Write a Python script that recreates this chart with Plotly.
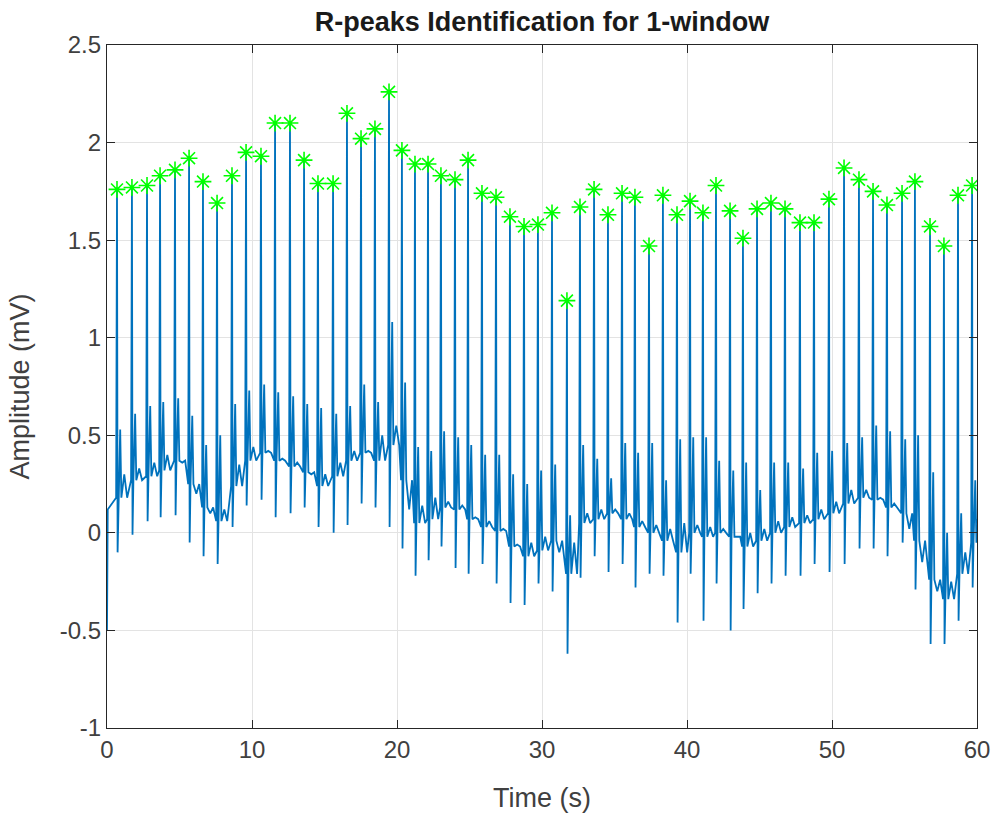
import plotly.graph_objects as go

# R-peak times (s) and amplitudes (mV)
r_times = [0.69, 1.72, 2.76, 3.66, 4.69, 5.66, 6.62, 7.59, 8.62, 9.59,
           10.62, 11.59, 12.62, 13.59, 14.55, 15.59, 16.55, 17.52, 18.48, 19.45,
           20.34, 21.24, 22.14, 23.03, 24.00, 24.90, 25.86, 26.83, 27.79, 28.76,
           29.72, 30.69, 31.72, 32.62, 33.59, 34.55, 35.52, 36.41, 37.38, 38.34,
           39.31, 40.21, 41.10, 42.00, 42.97, 43.86, 44.83, 45.79, 46.76, 47.79,
           48.76, 49.79, 50.83, 51.86, 52.83, 53.79, 54.83, 55.72, 56.76, 57.72,
           58.69, 59.66]
r_amps = [1.76, 1.77, 1.78, 1.83, 1.86, 1.92, 1.80, 1.69, 1.83, 1.95,
          1.93, 2.10, 2.10, 1.91, 1.79, 1.79, 2.15, 2.02, 2.07, 2.26,
          1.96, 1.89, 1.89, 1.83, 1.81, 1.91, 1.74, 1.72, 1.62, 1.57,
          1.58, 1.64, 1.19, 1.67, 1.76, 1.63, 1.74, 1.72, 1.47, 1.73,
          1.63, 1.70, 1.64, 1.78, 1.65, 1.51, 1.66, 1.69, 1.66, 1.59,
          1.59, 1.71, 1.87, 1.81, 1.75, 1.68, 1.74, 1.80, 1.57, 1.47,
          1.73, 1.78]
# baseline level around each beat (mV)
baseline = [0.18, 0.27, 0.29, 0.32, 0.37, 0.25, 0.13, 0.06, 0.24, 0.37,
            0.41, 0.37, 0.34, 0.31, 0.24, 0.29, 0.37, 0.41, 0.37, 0.45,
            0.27, 0.05, 0.07, 0.13, 0.12, 0.07, 0.03, 0.01, -0.07, -0.12,
            -0.09, -0.04, -0.21, 0.05, 0.07, 0.10, 0.07, 0.03, 0.00, -0.04,
            -0.10, 0.00, -0.02, 0.00, -0.02, -0.07, -0.04, 0.00, 0.03, 0.05,
            0.07, 0.10, 0.15, 0.18, 0.17, 0.13, 0.10, -0.04, -0.24, -0.34,
            -0.21, -0.05]
# broad wave level between beats (mV)
mid_levels = [0.30, 0.33, 0.36, 0.40, 0.36, 0.20, 0.10, 0.12, 0.35, 0.44,
              0.42, 0.38, 0.36, 0.30, 0.30, 0.36, 0.42, 0.42, 0.50, 0.55,
              0.12, 0.14, 0.18, 0.16, 0.14, 0.08, 0.06, 0.02, -0.06, -0.05,
              -0.02, -0.10, -0.05, 0.10, 0.12, 0.12, 0.10, 0.06, 0.04, 0.02,
              0.05, 0.04, 0.03, 0.02, -0.02, 0.00, 0.02, 0.06, 0.08, 0.09,
              0.12, 0.16, 0.22, 0.22, 0.18, 0.15, 0.02, -0.15, -0.30, -0.25,
              -0.10, 0.02]
# S-wave minimum after each R peak (mV)
s_mins = [-0.10, -0.01, 0.06, 0.08, 0.09, -0.05, -0.12, -0.16, 0.03, 0.14,
          0.17, 0.08, 0.10, 0.13, 0.03, 0.00, 0.04, 0.15, 0.13, 0.03,
          -0.08, -0.22, -0.14, -0.07, -0.18, -0.21, -0.16, -0.26, -0.36, -0.37,
          -0.26, -0.30, -0.62, -0.23, -0.12, -0.20, -0.16, -0.28, -0.21, -0.22,
          -0.46, -0.21, -0.45, -0.26, -0.50, -0.39, -0.31, -0.26, -0.22, -0.22,
          -0.16, -0.20, -0.16, -0.08, -0.08, -0.12, -0.05, -0.29, -0.57, -0.57,
          -0.45, -0.28]
# secondary upward spike after each beat (mV)
t_peaks = [0.53, 0.61, 0.65, 0.67, 0.69, 0.60, 0.45, 0.50, 0.66, 0.73,
           0.76, 0.72, 0.70, 0.66, 0.64, 0.61, 0.65, 0.76, 0.67, 1.08,
           0.77, 0.44, 0.42, 0.52, 0.49, 0.45, 0.40, 0.40, 0.30, 0.25,
           0.32, 0.35, 0.09, 0.45, 0.38, 0.28, 0.46, 0.41, 0.46, 0.27,
           0.48, 0.49, 0.49, 0.37, 0.32, 0.36, 0.22, 0.36, 0.36, 0.33,
           0.41, 0.42, 0.46, 0.49, 0.55, 0.52, 0.48, 0.50, 0.31, 0.00,
           0.10, 0.27]
start_value = -0.5
end_value = 0.07

# build the ECG trace from the per-beat values
t_sig = [0.0, 0.05]
v_sig = [start_value, 0.12]
for i, tr in enumerate(r_times):
    b = baseline[i]
    m = mid_levels[i]
    t_sig += [tr - 0.06, tr, tr + 0.04, tr + 0.10, tr + 0.22, tr + 0.30,
              tr + 0.50, tr + 0.70]
    v_sig += [b, r_amps[i], s_mins[i], b, t_peaks[i], b, m, b]
t_sig.append(60.0)
v_sig.append(end_value)

FONT = "Liberation Sans, Arial"

fig = go.Figure()
fig.add_trace(go.Scatter(x=t_sig, y=v_sig, mode="lines",
                         line=dict(color="#0072BD", width=1.8),
                         showlegend=False, hoverinfo="skip"))
fig.add_trace(go.Scatter(x=r_times, y=r_amps, mode="markers",
                         marker=dict(symbol="asterisk-open", size=14,
                                     color="#00FF00",
                                     line=dict(color="#00FF00", width=1.6)),
                         showlegend=False))

axis_common = dict(showline=True, linecolor="#262626", linewidth=1.3,
                   mirror="ticks", ticks="inside", ticklen=8,
                   tickcolor="#262626", tickwidth=1.3,
                   showgrid=True, gridcolor="#E3E3E3", gridwidth=1,
                   zeroline=False, automargin=False,
                   tickfont=dict(family=FONT, size=24, color="#404040"))

fig.update_layout(
    width=991, height=814,
    margin=dict(l=107, r=14, t=45, b=86),
    paper_bgcolor="white", plot_bgcolor="white",
    title=dict(text="<b>R-peaks Identification for 1-window</b>",
               x=(107 + 977) / 2 / 991, xanchor="center",
               y=1 - 22 / 814, yanchor="middle",
               font=dict(family=FONT, size=27, color="#1a1a1a")),
    xaxis=dict(range=[0, 60], tickvals=[0, 10, 20, 30, 40, 50, 60],
               title=dict(text="Time (s)", standoff=26,
                          font=dict(family=FONT, size=27, color="#404040")),
               **axis_common),
    yaxis=dict(range=[-1, 2.5], tickvals=[-1, -0.5, 0, 0.5, 1, 1.5, 2, 2.5],
               ticktext=["-1", "-0.5", "0", "0.5", "1", "1.5", "2", "2.5"],
               title=dict(text="Amplitude (mV)", standoff=22,
                          font=dict(family=FONT, size=27, color="#404040")),
               **axis_common),
)

fig.write_html("out.html")
